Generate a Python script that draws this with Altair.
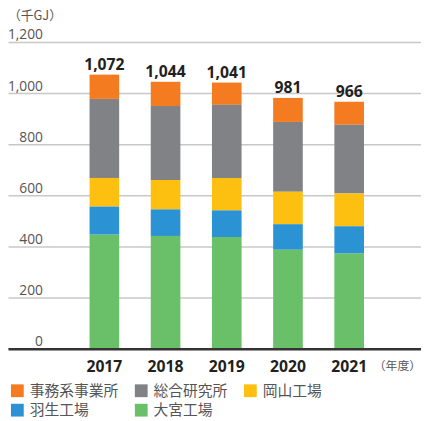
import altair as alt
import pandas as pd

years = ["2017", "2018", "2019", "2020", "2021"]
sites = ["事務系事業所", "総合研究所", "岡山工場", "羽生工場", "大宮工場"]
office = [95, 95, 87, 94, 90]
research = [309, 289, 286, 273, 269]
okayama = [112, 115, 127, 127, 128]
hanyu = [110, 104, 104, 100, 107]
omiya = [446, 441, 437, 387, 372]
totals = [1072, 1044, 1041, 981, 966]
colors = ["#F47B20", "#808285", "#FDC010", "#2B93D3", "#6ABF69"]
y_ticks = [0, 200, 400, 600, 800, 1000, 1200]

series = [office, research, okayama, hanyu, omiya]
rows = []
for si, (name, vals) in enumerate(zip(sites, series)):
    for y, v in zip(years, vals):
        rows.append({"year": y, "site": name, "value": v, "rank": len(sites) - si})
df = pd.DataFrame(rows)
tot_df = pd.DataFrame({"year": years, "total": totals})

W, H = 420, 312

# an empty leading slot keeps the left spacing of the original layout
xscale = alt.Scale(domain=["_"] + years, paddingInner=0.516, paddingOuter=0.632, align=0.263)

bars = alt.Chart(df).mark_bar().encode(
    x=alt.X("year:N", scale=xscale, title=None,
            axis=alt.Axis(labelAngle=0, labelFontSize=16, labelFontWeight="bold",
                          labelColor="#231F20", labelFont="Open Sans", ticks=False,
                          labelExpr="datum.label == '_' ? '' : datum.label",
                          domainColor="#333333", domainWidth=2.5, labelPadding=10,
                          grid=False, zindex=1)),
    y=alt.Y("value:Q", stack="zero", scale=alt.Scale(domain=[0, 1200]), title=None,
            axis=alt.Axis(values=y_ticks, format=",d", ticks=False, domain=False,
                          labelAlign="right", labelBaseline="bottom", labelPadding=-35,
                          labelFontSize=14, labelColor="#555555", labelFont="Open Sans",
                          gridColor="#c8c8c8", gridWidth=1.5)),
    color=alt.Color("site:N", scale=alt.Scale(domain=sites, range=colors),
                    legend=alt.Legend(orient="none", legendX=2, legendY=347,
                                      direction="horizontal", columns=3,
                                      symbolType="square", symbolSize=169,
                                      symbolStrokeWidth=0, labelFontSize=15,
                                      labelFont="Noto Sans CJK JP", labelColor="#555555",
                                      columnPadding=15, rowPadding=4, labelOffset=5,
                                      title=None)),
    order=alt.Order("rank:Q", sort="ascending"),
)

labels = alt.Chart(tot_df).mark_text(
    dy=-5, baseline="alphabetic", fontWeight="bold", fontSize=16,
    font="Open Sans", color="#231F20"
).encode(
    x=alt.X("year:N", scale=xscale),
    y=alt.Y("total:Q"),
    text=alt.Text("total:Q", format=",d"),
)

unit = alt.Chart(pd.DataFrame({"t": ["（千GJ）"]})).mark_text(
    align="left", baseline="middle", fontSize=13, font="Noto Sans CJK JP", color="#555555"
).encode(x=alt.value(0), y=alt.value(-26), text="t:N")

yunit = alt.Chart(pd.DataFrame({"t": ["（年度）"]})).mark_text(
    align="right", baseline="middle", fontSize=12, font="Noto Sans CJK JP", color="#555555"
).encode(x=alt.value(W), y=alt.value(H + 18), text="t:N")

chart = alt.layer(bars, labels, unit, yunit).properties(
    width=W, height=H,
    autosize=alt.AutoSizeParams(type="none"),
    padding={"left": 0, "top": 31, "right": 0, "bottom": 68},
).configure_view(stroke=None)

chart.save("out.html", embed_options={"renderer": "svg", "actions": False})
